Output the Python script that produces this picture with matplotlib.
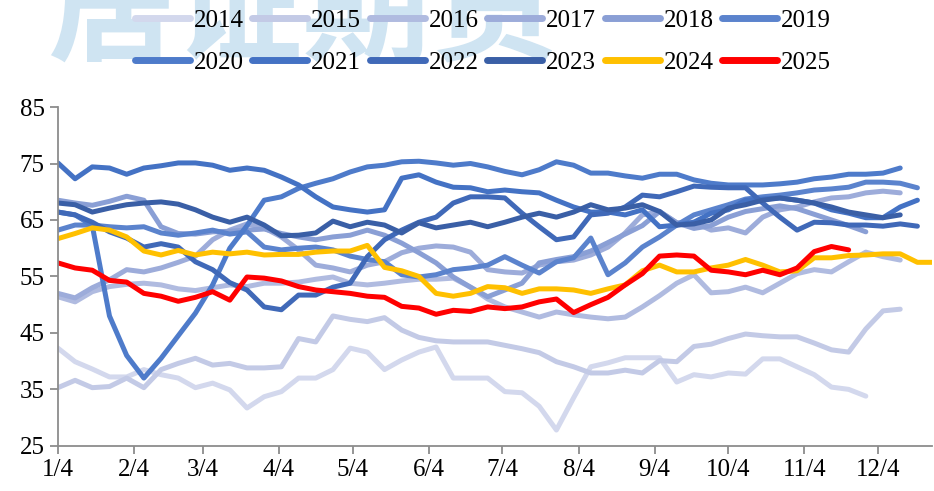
import numpy as np
import matplotlib
matplotlib.use('Agg')
from matplotlib import pyplot as plt

# weekly series, first point at 1/4
s2014 = [42.3, 39.9, 38.6, 37.2, 37.2, 38.5, 37.6, 37.0, 35.3, 36.1, 34.9, 31.7, 33.7, 34.6, 37.0, 37.0,
         38.5, 42.3, 41.6, 38.5, 40.2, 41.6, 42.5, 37.0, 37.0, 37.0, 34.6, 34.4, 32.0, 27.8, 33.5, 39.0,
         39.7, 40.6, 40.6, 40.6, 36.3, 37.6, 37.2, 37.9, 37.7, 40.4, 40.4, 39.0, 37.6, 35.4, 35.0, 33.8]
s2015 = [35.3, 36.6, 35.3, 35.5, 37.0, 35.3, 38.5, 39.6, 40.5, 39.3, 39.6, 38.8, 38.8, 39.0, 44.0, 43.4,
         48.0, 47.4, 47.0, 47.7, 45.5, 44.2, 43.6, 43.4, 43.4, 43.4, 42.8, 42.2, 41.5, 39.9, 39.0, 37.9,
         37.9, 38.4, 37.9, 40.1, 39.9, 42.6, 43.0, 44.0, 44.8, 44.5, 44.3, 44.3, 43.2, 42.0, 41.6, 45.7,
         48.9, 49.2]
s2016 = [51.4, 50.5, 52.3, 53.2, 53.6, 53.8, 53.5, 52.8, 52.5, 53.0, 53.5, 53.2, 53.8, 53.8, 54.0, 54.5,
         54.9, 53.8, 53.5, 53.8, 54.2, 54.5, 54.5, 54.7, 53.1, 51.0, 49.6, 48.7, 47.8, 48.7, 48.2, 47.8,
         47.5, 47.8, 49.6, 51.6, 53.8, 55.3, 52.1, 52.3, 53.1, 52.1, 53.8, 55.5, 56.2, 55.8, 57.6, 59.3,
         58.5, 57.9]
s2017 = [52.0, 51.2, 53.0, 54.4, 56.2, 55.8, 56.5, 57.5, 58.6, 61.5, 63.2, 64.3, 63.6, 62.0, 59.7, 57.0,
         56.5, 55.8, 57.0, 57.6, 59.2, 60.0, 60.4, 60.2, 59.3, 56.2, 55.8, 55.6, 57.0, 57.6, 57.9, 58.8,
         60.2, 62.7, 65.9, 66.5, 64.5, 64.6, 63.2, 63.6, 62.7, 65.5, 66.8, 67.3, 68.2, 68.9, 69.1, 69.8,
         70.1, 69.8]
s2018 = [68.5, 68.0, 67.6, 68.3, 69.2, 68.5, 63.8, 62.6, 62.5, 62.9, 63.0, 63.2, 63.4, 62.6, 62.0, 61.5,
         62.0, 62.3, 63.2, 62.3, 60.9, 59.2, 57.4, 54.9, 53.1, 51.4, 52.6, 53.8, 57.4, 58.0, 58.5, 59.5,
         61.0, 62.5, 64.0, 66.5, 64.5, 63.5, 64.0, 65.5, 66.5, 67.0, 67.5, 67.0, 66.0, 65.0, 64.0, 62.9]
s2019 = [63.2, 64.1, 64.1, 63.8, 63.6, 63.8, 62.7, 62.3, 62.7, 63.2, 62.5, 62.9, 60.2, 59.7, 60.0, 60.2,
         59.7, 58.6, 58.0, 57.6, 55.3, 54.9, 55.3, 56.2, 56.5, 57.0, 58.5, 57.0, 55.6, 57.6, 58.3, 61.8,
         55.3, 57.4, 60.2, 62.0, 64.1, 65.9, 66.8, 67.7, 68.7, 69.1, 69.4, 69.8, 70.3, 70.5, 70.8, 71.7,
         71.7, 71.5, 70.7]
s2020 = [66.4, 65.9, 64.0, 48.0, 41.0, 37.0, 40.5, 44.5, 48.5, 53.5, 60.0, 64.0, 68.5, 69.1, 70.6, 71.5,
         72.3, 73.5, 74.4, 74.7, 75.3, 75.4, 75.1, 74.7, 75.0, 74.4, 73.6, 73.0, 73.9, 75.3, 74.7, 73.3,
         73.3, 72.8, 72.4, 73.1, 73.1, 72.1, 71.5, 71.2, 71.2, 71.2, 71.4, 71.7, 72.3, 72.6, 73.1, 73.1,
         73.3, 74.2]
s2021 = [75.1, 72.3, 74.4, 74.2, 73.1, 74.2, 74.6, 75.1, 75.1, 74.7, 73.8, 74.2, 73.8, 72.6, 71.2, 69.1,
         67.3, 66.8, 66.4, 66.8, 72.4, 73.0, 71.7, 70.8, 70.7, 70.0, 70.3, 70.0, 69.8, 68.5, 67.3, 66.4,
         66.4, 65.9, 66.8, 63.8, 64.1, 64.6, 66.2, 66.8, 68.5, 68.7, 68.9, 68.5, 68.0, 66.8, 66.2, 65.4,
         65.4, 67.3, 68.5]
s2022 = [66.4, 65.9, 64.6, 62.9, 61.8, 60.2, 60.8, 60.2, 57.6, 56.2, 53.9, 52.6, 49.6, 49.1, 51.7, 51.7,
         53.1, 53.8, 58.5, 61.5, 63.2, 64.6, 65.5, 68.0, 69.1, 69.1, 68.9, 66.2, 63.8, 61.5, 62.0, 65.9,
         66.2, 67.3, 69.4, 69.1, 70.0, 71.0, 70.8, 70.7, 70.7, 68.0, 65.5, 63.2, 64.6, 64.5, 64.1, 64.1,
         63.9, 64.3, 63.9]
s2023 = [68.0, 67.7, 66.4, 67.1, 67.7, 68.0, 68.2, 67.8, 66.8, 65.5, 64.6, 65.5, 64.1, 62.2, 62.3, 62.7,
         64.8, 63.8, 64.6, 64.1, 62.7, 64.5, 63.6, 64.1, 64.6, 63.8, 64.6, 65.5, 66.2, 65.5, 66.4, 67.7,
         66.8, 67.1, 67.7, 66.5, 64.1, 64.3, 65.0, 67.1, 67.7, 68.5, 68.9, 68.5, 68.0, 67.3, 66.4, 65.9,
         65.4, 65.9]
s2024 = [61.7, 62.6, 63.6, 63.2, 62.0, 59.5, 58.8, 59.6, 58.8, 59.3, 59.0, 59.3, 58.8, 58.9, 58.9, 59.3,
         59.5, 59.5, 60.5, 56.6, 56.0, 55.0, 52.0, 51.5, 52.0, 53.2, 53.0, 52.0, 52.8, 52.8, 52.6, 52.0,
         52.8, 53.5, 56.0, 57.0, 55.8, 55.8, 56.5, 57.0, 58.0, 57.0, 55.8, 56.0, 58.3, 58.3, 58.7, 58.8,
         59.0, 59.0, 57.5, 57.5]
s2025 = [57.4, 56.5, 56.1, 54.3, 54.0, 52.0, 51.5, 50.6, 51.3, 52.3, 50.8, 54.9, 54.7, 54.2, 53.2, 52.6,
         52.3, 52.0, 51.5, 51.3, 49.7, 49.4, 48.3, 49.0, 48.8, 49.6, 49.3, 49.6, 50.5, 51.0, 48.6, 50.0,
         51.3, 53.5, 55.5, 58.6, 58.8, 58.6, 56.1, 55.8, 55.3, 56.1, 55.3, 56.5, 59.4, 60.3, 59.7]

years = ['2014', '2015', '2016', '2017', '2018', '2019', '2020', '2021', '2022', '2023', '2024', '2025']
series = [s2014, s2015, s2016, s2017, s2018, s2019, s2020, s2021, s2022, s2023, s2024, s2025]
colors = ['#d3d8ed', '#c3cae6', '#b0bbe0', '#9dacda', '#8a9fd5', '#5b83cd', '#4e7bca', '#4472c4',
          '#4069b8', '#3a5fa6', '#ffc000', '#ff0000']

month_days = [0, 31, 59, 90, 120, 151, 181, 212, 243, 273, 304, 334]
month_labels = ['1/4', '2/4', '3/4', '4/4', '5/4', '6/4', '7/4', '8/4', '9/4', '10/4', '11/4', '12/4']

fig = plt.figure(figsize=(9.34, 4.91), dpi=100)
ax = fig.add_axes([0.062, 0.092, 0.936, 0.69])

fig.text(0.05, 0.84, '居证期货', fontsize=92, color='#cfe4f2', family='Noto Sans CJK SC',
         weight='bold', va='bottom', ha='left', zorder=0)

for yr, vals, c in zip(years, series, colors):
    days = np.arange(len(vals)) * 7
    ax.plot(days, vals, color=c, lw=3.6, label=yr, solid_capstyle='round', solid_joinstyle='round')

ax.set_xlim(0, 356)
ax.set_ylim(25, 85)
ax.set_yticks([25, 35, 45, 55, 65, 75, 85])
ax.set_xticks(month_days)
ax.set_xticklabels(month_labels)
for s in ['top', 'right']:
    ax.spines[s].set_visible(False)
for s in ['left', 'bottom']:
    ax.spines[s].set_color('#8c8c8c')
    ax.spines[s].set_linewidth(1.3)
ax.tick_params(axis='both', colors='#8c8c8c', length=6, width=1.3, direction='out')
for lab in ax.get_xticklabels() + ax.get_yticklabels():
    lab.set_fontfamily('Liberation Serif')
    lab.set_fontsize(18)
    lab.set_color('black')

# legend fills by column, so interleave to get 2014-2019 on the first row
handles, labels = ax.get_legend_handles_labels()
order = [0, 6, 1, 7, 2, 8, 3, 9, 4, 10, 5, 11]
leg = fig.legend([handles[i] for i in order], [labels[i] for i in order], ncol=6,
                 loc='upper center', bbox_to_anchor=(0.517, 1.027),
                 frameon=False, prop={'family': 'Liberation Serif', 'size': 18},
                 handlelength=2.2, handletextpad=0.15, columnspacing=0.35, labelspacing=0.8)
for h in leg.get_lines():
    h.set_linewidth(5)

fig.savefig('out.png', dpi=100)
